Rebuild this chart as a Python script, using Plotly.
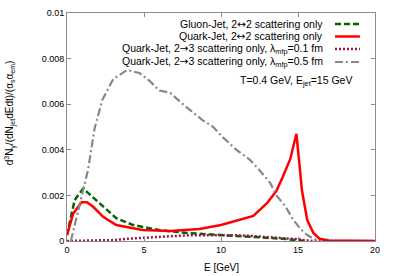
import plotly.graph_objects as go

# Gluon-Jet, 2<->2 scattering only
E_gluon = [0, 0.5, 1.05, 1.7, 2.35, 3.2, 4.3, 6.0, 7.8, 9.7, 12.0, 14.0, 15.0, 15.5]
Y_gluon = [0.00026, 0.0018, 0.0023, 0.0019, 0.0015, 0.0010, 0.0007, 0.00048, 0.00035,
           0.00026, 0.00018, 0.00010, 0.00005, 0.0]

# Quark-Jet, 2<->2 scattering only
E_q22 = [0, 0.4, 0.95, 1.3, 1.7, 2.35, 3.2, 4.9, 6.7, 8.6, 10.0, 11.2, 12.1, 13.0, 13.6,
         14.0, 14.5, 14.75, 14.9, 15.26, 15.6, 16.0, 16.4, 17.0, 20.0]
Y_q22 = [0.00026, 0.0012, 0.0017, 0.0017, 0.0015, 0.00106, 0.0007, 0.00048, 0.00044, 0.00053,
         0.0007, 0.00092, 0.0011, 0.00167, 0.0022, 0.0028, 0.0036, 0.0043, 0.0047, 0.0022,
         0.00092, 0.00035, 0.0001, 0.00002, 0.0]

# Quark-Jet, 2->3 scattering only, lambda_mfp = 0.1 fm
E_q23a = [0, 2, 3, 4, 5, 6, 7, 8, 9, 10, 11, 12, 13, 14, 14.5, 15, 15.5, 16, 20]
Y_q23a = [0, 0.00001, 0.00004, 0.0001, 0.00015, 0.00019, 0.00022, 0.00025, 0.00026, 0.00026,
          0.00025, 0.00022, 0.00018, 0.00015, 0.00013, 0.00008, 0.00003, 0.0, 0.0]

# Quark-Jet, 2->3 scattering only, lambda_mfp = 0.5 fm
E_q23b = [0.25, 1.36, 1.8, 2.3, 3.0, 3.9, 4.7, 5.4, 6.0, 6.7, 7.7, 8.8, 9.5, 10.1, 11.0,
          11.9, 12.5, 13.2, 13.6, 14.2, 14.7, 15.2, 15.6, 16.0, 16.4]
Y_q23b = [0.0, 0.0031, 0.00496, 0.0062, 0.0071, 0.0075, 0.00737, 0.0070, 0.0066, 0.0065,
          0.0059, 0.0053, 0.0050, 0.00456, 0.0040, 0.00355, 0.0031, 0.00254, 0.0020, 0.0015,
          0.00092, 0.0005, 0.00026, 0.0001, 0.0]

x_ticks = [0, 5, 10, 15, 20]
y_ticks = [0, 0.002, 0.004, 0.006, 0.008, 0.01]
y_tick_labels = ["0", "0.002", "0.004", "0.006", "0.008", "0.01"]

AR2 = '<span style="font-family:DejaVu Sans">↔</span>'
AR3 = '<span style="font-family:DejaVu Sans">→</span>'
labels = [
    "Gluon-Jet, 2" + AR2 + "2 scattering only",
    "Quark-Jet, 2" + AR2 + "2 scattering only",
    "Quark-Jet, 2" + AR3 + "3 scattering only, λ<sub>mfp</sub>=0.1 fm",
    "Quark-Jet, 2" + AR3 + "3 scattering only, λ<sub>mfp</sub>=0.5 fm",
]
colors = ["#006400", "#ff0000", "#a0104a", "#888888"]
dashes = ["6px,3px", "solid", "2px,2px", "8px,3px,2px,3px"]
widths = [2.5, 2.5, 2.5, 2.2]

fig = go.Figure()
series = [(E_gluon, Y_gluon), (E_q22, Y_q22), (E_q23a, Y_q23a), (E_q23b, Y_q23b)]
for (xs, ys), c, d, w in zip(series, colors, dashes, widths):
    fig.add_trace(go.Scatter(x=xs, y=ys, mode="lines",
                             line=dict(color=c, dash=d, width=w), showlegend=False))

font = "Liberation Sans, Arial, sans-serif"
row_y = [0.952, 0.897, 0.842, 0.785]
for lab, c, d, w, yy in zip(labels, colors, dashes, widths, row_y):
    fig.add_annotation(x=0.838, y=yy, xref="paper", yref="paper", text=lab,
                       showarrow=False, xanchor="right", yanchor="middle",
                       font=dict(family=font, size=10.5, color="black"))
    fig.add_shape(type="line", xref="paper", yref="paper", x0=0.87, x1=0.951, y0=yy, y1=yy,
                  line=dict(color=c, dash=d, width=w))

fig.add_annotation(x=0.932, y=0.70, xref="paper", yref="paper",
                   text="T=0.4 GeV, E<sub>jet</sub>=15 GeV", showarrow=False,
                   xanchor="right", yanchor="middle",
                   font=dict(family=font, size=10.5, color="black"))

fig.add_annotation(x=-0.185, y=0.56, xref="paper", yref="paper",
                   text="d<sup>3</sup>N<sub>γ</sub>/(dN<sub>jet</sub>dEdt)/(α<sub>s</sub>α<sub>em</sub>)",
                   textangle=-90, showarrow=False, xanchor="center", yanchor="middle",
                   font=dict(family=font, size=10, color="black"))

fig.add_annotation(x=0.5, y=-0.085, xref="paper", yref="paper", text="E [GeV]",
                   showarrow=False, xanchor="center", yanchor="top",
                   font=dict(family=font, size=10, color="black"))

axis_common = dict(showgrid=False, zeroline=False, showline=True, linecolor="#8c8c8c",
                   linewidth=1, mirror="ticks", ticks="inside", ticklen=4, automargin=False,
                   tickcolor="#8c8c8c", tickfont=dict(family=font, size=9, color="black"))

fig.update_xaxes(range=[0, 20], tickvals=x_ticks, **axis_common)
fig.update_yaxes(range=[0, 0.01], tickvals=y_ticks, ticktext=y_tick_labels, **axis_common)

fig.update_layout(width=395, height=276, margin=dict(l=67, r=20, t=13, b=35, autoexpand=False),
                  plot_bgcolor="white", paper_bgcolor="white",
                  font=dict(family=font, size=10, color="black"))

fig.write_html("out.html", config={"displayModeBar": False},
               post_script="document.body.style.margin='0px';")
